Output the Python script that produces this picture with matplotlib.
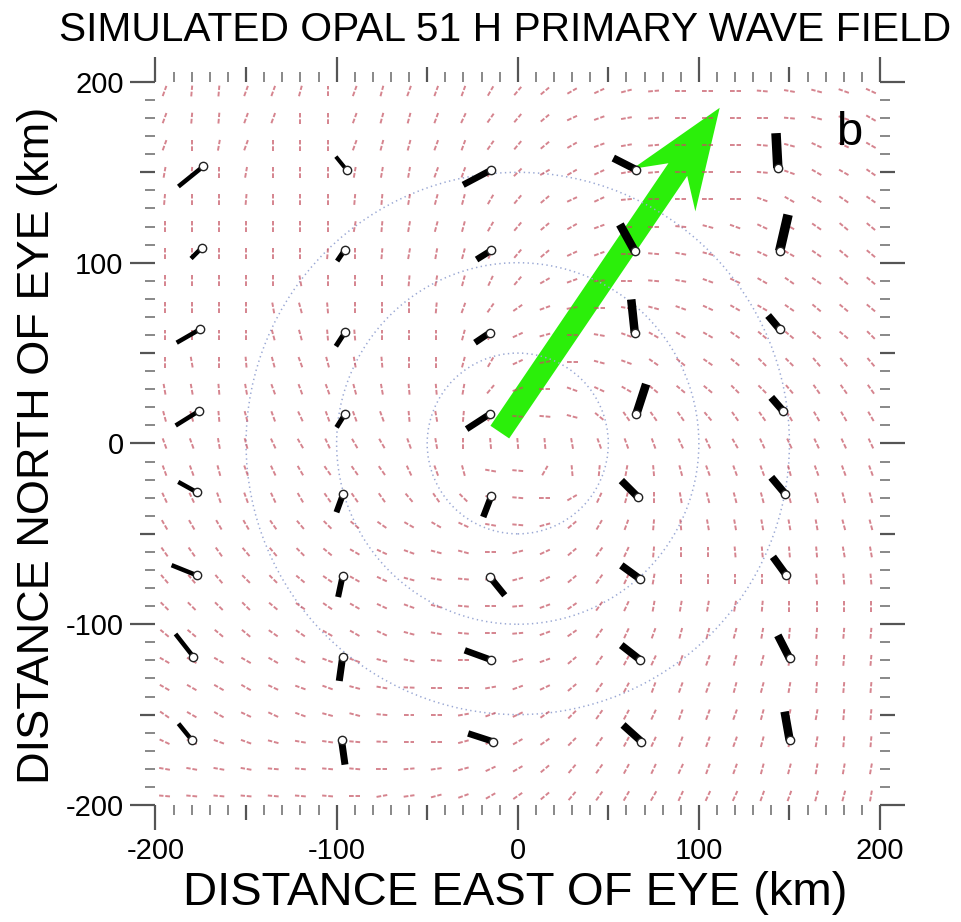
import numpy as np
import matplotlib
matplotlib.use('Agg')
import matplotlib.pyplot as plt
from matplotlib.collections import LineCollection
from matplotlib.patches import Circle
from matplotlib.ticker import MultipleLocator, FuncFormatter

plt.rcParams['font.family'] = ['Liberation Sans', 'DejaVu Sans']
plt.rcParams['axes.unicode_minus'] = False
plt.rcParams['lines.scale_dashes'] = False

# model grid, km east / north of the eye
grid_x = np.arange(-195, 196, 15)
grid_y = np.arange(195, -196, -15)

# primary wave direction at each node (deg from east, line only), rows north -> south
wave_dir = [
    [70, 85, 85, 70, 70, 75, 90, 70, 75, 70, 70, 70, 60, 50, 40, 30, 25, 15, 5, 0, 0, 0, 175, 170, 165, 160, 155],
    [70, 85, 85, 70, 70, 90, 90, 70, 75, 75, 70, 65, 55, 50, 40, 25, 20, 10, 5, 0, 0, 0, 0, 175, 165, 160, 150],
    [70, 90, 80, 70, 90, 90, 90, 70, 75, 75, 70, 70, 55, 50, 40, 30, 20, 10, 5, 0, 0, 0, 175, 165, 155, 155, 150],
    [80, 85, 90, 80, 90, 90, 90, 80, 80, 80, 70, 70, 55, 45, 30, 30, 25, 10, 5, 0, 0, 0, 175, 160, 150, 150, 145],
    [85, 90, 90, 85, 90, 90, 90, 85, 85, 80, 75, 75, 60, 50, 40, 25, 25, 5, 0, 0, 0, 0, 160, 150, 150, 145, 145],
    [90, 90, 90, 90, 90, 90, 90, 80, 85, 80, 75, 75, 60, 50, 40, 30, 20, 0, 0, 175, 165, 160, 155, 150, 145, 140, 140],
    [90, 90, 90, 90, 90, 90, 85, 90, 85, 80, 80, 75, 65, 50, 40, 25, 20, 0, 175, 170, 165, 160, 155, 150, 145, 140, 140],
    [90, 90, 90, 90, 90, 100, 90, 90, 90, 85, 80, 75, 65, 50, 30, 20, 5, 0, 175, 170, 160, 155, 150, 145, 145, 140, 140],
    [90, 90, 90, 90, 100, 105, 95, 90, 90, 90, 85, 70, 55, 35, 20, 10, 0, 170, 165, 160, 155, 150, 150, 145, 140, 140, 140],
    [90, 90, 90, 90, 105, 105, 95, 95, 90, 90, 90, 75, 60, 25, 15, 0, 170, 160, 150, 150, 150, 145, 140, 140, 140, 140, 135],
    [90, 100, 90, 95, 105, 110, 105, 100, 95, 90, 90, 75, 60, 25, 10, 0, 165, 160, 145, 140, 145, 140, 135, 135, 130, 130, 130],
    [100, 100, 95, 100, 110, 110, 110, 105, 100, 95, 95, 80, 50, 20, 0, 160, 155, 150, 140, 140, 140, 135, 135, 130, 125, 125, 125],
    [105, 105, 95, 105, 110, 115, 110, 110, 110, 95, 100, 85, 60, 175, 175, 165, 140, 125, 125, 125, 130, 125, 125, 120, 120, 120, 120],
    [110, 110, 100, 105, 115, 120, 115, 120, 120, 110, 100, 90, 95, 95, 95, 100, 110, 110, 110, 115, 115, 120, 115, 115, 115, 115, 115],
    [110, 110, 105, 110, 115, 120, 125, 125, 125, 115, 110, 105, 170, 175, 60, 95, 85, 80, 95, 105, 110, 110, 110, 105, 110, 110, 110],
    [115, 115, 110, 110, 115, 120, 125, 125, 125, 130, 125, 135, 160, 175, 0, 30, 65, 75, 90, 100, 105, 105, 105, 105, 105, 105, 105],
    [120, 120, 120, 120, 125, 130, 135, 140, 145, 150, 150, 155, 170, 175, 15, 40, 60, 70, 85, 95, 100, 100, 100, 100, 100, 105, 105],
    [125, 125, 125, 130, 130, 135, 140, 150, 155, 160, 165, 165, 0, 15, 25, 40, 55, 65, 85, 90, 90, 95, 95, 95, 95, 100, 100],
    [130, 130, 130, 135, 135, 140, 145, 150, 155, 165, 170, 175, 5, 15, 25, 40, 55, 65, 80, 90, 90, 90, 90, 90, 95, 95, 95],
    [135, 135, 135, 135, 140, 145, 145, 150, 155, 160, 165, 175, 0, 5, 20, 35, 55, 65, 80, 80, 80, 80, 85, 90, 90, 90, 90],
    [140, 140, 140, 140, 145, 145, 150, 150, 155, 165, 170, 175, 0, 5, 20, 35, 55, 65, 70, 75, 75, 75, 80, 85, 85, 85, 85],
    [150, 150, 150, 150, 150, 155, 160, 160, 165, 168, 175, 0, 0, 15, 20, 40, 55, 62, 65, 70, 70, 75, 75, 80, 85, 85, 85],
    [150, 150, 150, 150, 155, 160, 160, 165, 170, 178, 0, 0, 10, 20, 25, 40, 55, 62, 70, 70, 70, 75, 75, 80, 85, 85, 85],
    [145, 150, 150, 155, 155, 160, 165, 165, 175, 0, 0, 10, 20, 25, 35, 45, 55, 62, 65, 70, 70, 70, 75, 78, 80, 85, 85],
    [155, 155, 160, 160, 165, 170, 172, 175, 178, 0, 0, 15, 25, 30, 35, 45, 55, 62, 65, 70, 70, 70, 75, 80, 80, 85, 85],
    [170, 170, 170, 170, 175, 175, 175, 175, 0, 5, 8, 15, 25, 30, 40, 50, 55, 62, 65, 65, 70, 70, 75, 75, 80, 80, 80],
    [175, 175, 175, 175, 175, 175, 175, 0, 10, 8, 15, 20, 30, 35, 40, 50, 55, 60, 60, 65, 65, 65, 70, 70, 75, 75, 80],
]

# observed wave directions (open circle = site, bar points along the wave direction)
obs_x = [-173.6, -174.5, -175.4, -175.8, -177.3, -177.3, -179.1, -180.0,
         -94.5, -95.4, -95.4, -95.4, -96.4, -96.7, -96.7, -97.3,
         -14.5, -14.5, -15.4, -15.4, -14.5, -15.4, -14.5, -13.6,
         65.5, 64.6, 64.6, 65.5, 66.4, 67.3, 67.7, 68.3,
         143.6, 144.6, 144.6, 146.4, 147.7, 148.3, 150.1, 150.1]
obs_y = [153.3, 108.2, 63.2, 18.1, -26.9, -72.9, -118.0, -164.0,
         151.4, 107.3, 61.5, 16.3, -27.9, -73.3, -118.3, -164.0,
         151.4, 106.9, 61.3, 16.3, -28.8, -73.8, -119.8, -164.9,
         151.4, 106.4, 61.3, 16.3, -29.7, -74.8, -119.8, -164.9,
         152.4, 106.4, 63.2, 18.1, -27.9, -72.9, -118.9, -164.0]
obs_dir = [219, 225, 210, 212, 151, 158, 128, 129,
           129, 236, 237, 238, 250, 258, 262, 278,
           208, 212, 214, 213, 249, 309, 160, 162,
           153, 119, 96, 72, 135, 144, 142, 138,
           93, 77, 130, 131, 130, 126, 117, 100]
obs_len = [17.7, 8.3, 14.9, 15.4, 11.6, 14.9, 16.0, 11.6,
           9.4, 7.7, 9.2, 8.7, 10.8, 11.9, 13.2, 13.8,
           17.7, 9.7, 9.9, 15.3, 12.7, 13.1, 15.7, 14.5,
           14.3, 16.9, 18.5, 17.4, 13.0, 12.5, 13.4, 13.7,
           19.3, 20.7, 9.9, 9.8, 12.0, 12.6, 14.3, 15.9]
# bar thickness in pixels
bar_px = [4.5] * 8 + [4, 5, 5, 5, 6, 6, 7, 7] + [6.5] * 8 + [7.5, 8.5, 8.5, 8.5, 7.5, 7.5, 7.5, 7.5] + [9.5, 9.5, 7.5, 7.5, 7.5, 7.5, 8, 8.5]

ring_radii = [50, 100, 150]

# storm motion arrow (km)
arrow_start = (-9.9, 6.3)
arrow_end = (111.5, 185.7)

fig = plt.figure(figsize=(9.61, 9.22), dpi=100)
ax = fig.add_axes([0.1618, 0.1269, 0.7539, 0.7842])
ax.set_xlim(-200, 200)
ax.set_ylim(-200, 200)

# green motion arrow
dx = arrow_end[0] - arrow_start[0]
dy = arrow_end[1] - arrow_start[1]
ax.arrow(arrow_start[0], arrow_start[1], dx, dy, width=12.5, head_width=42,
         head_length=55, overhang=0.25, length_includes_head=True,
         fc='#2bef0a', ec='none', zorder=1)

# range rings
for r in ring_radii:
    ax.add_patch(Circle((0, 0), r, fill=False, ls=(0, (1, 2.4)), ec='#9aa8d4', lw=1.1, zorder=1.5))

# wave direction field
half = 3.0
segs = []
for j, yy in enumerate(grid_y):
    for i, xx in enumerate(grid_x):
        a = np.deg2rad(wave_dir[j][i])
        segs.append([(xx - half * np.cos(a), yy - half * np.sin(a)),
                     (xx + half * np.cos(a), yy + half * np.sin(a))])
lc = LineCollection(segs, colors='#c4505f', linewidths=1.4, alpha=0.7,
                    linestyles=[(0, (3.4, 1.3))], zorder=2)
ax.add_collection(lc)

# observed directions
for x0, y0, d, L, w in zip(obs_x, obs_y, obs_dir, obs_len, bar_px):
    a = np.deg2rad(d)
    ax.plot([x0, x0 + L * np.cos(a)], [y0, y0 + L * np.sin(a)], color='black',
            lw=w * 0.72, solid_capstyle='butt', zorder=4)
ax.plot(obs_x, obs_y, 'o', ms=6, mfc='white', mec='#222222', mew=1.0, ls='none', zorder=5)

ax.text(183, 172, 'b', fontsize=34, ha='center', va='center', zorder=6)

# axes: no frame, outward ticks on every side
for s in ax.spines.values():
    s.set_visible(False)
for axis in (ax.xaxis, ax.yaxis):
    axis.set_major_locator(MultipleLocator(50))
    axis.set_minor_locator(MultipleLocator(10))
    axis.set_major_formatter(FuncFormatter(lambda v, p: '%d' % v if v % 100 == 0 else ''))
ax.tick_params(which='both', direction='out', top=True, right=True)
ax.tick_params(which='major', length=18, width=1.6, color='#555555', labelsize=21, pad=5)
ax.tick_params(which='minor', length=7, width=1.4, color='#888888')

fig.canvas.draw()
for axis in (ax.xaxis, ax.yaxis):
    for tick, loc in zip(axis.get_major_ticks(), axis.get_majorticklocs()):
        if round(loc) % 100 != 0:
            tick.tick1line.set_markersize(11)
            tick.tick2line.set_markersize(11)

fig.text(0.5255, 0.9675, 'SIMULATED OPAL 51 H PRIMARY WAVE FIELD', fontsize=29.3,
         ha='center', va='center')
fig.text(0.536, 0.031, 'DISTANCE EAST OF EYE (km)', fontsize=34, ha='center', va='center')
fig.text(0.0395, 0.5174, 'DISTANCE NORTH OF EYE (km)', fontsize=32.5, ha='center',
         va='center', rotation=90)

fig.savefig('out.png', dpi=100, facecolor='white')
